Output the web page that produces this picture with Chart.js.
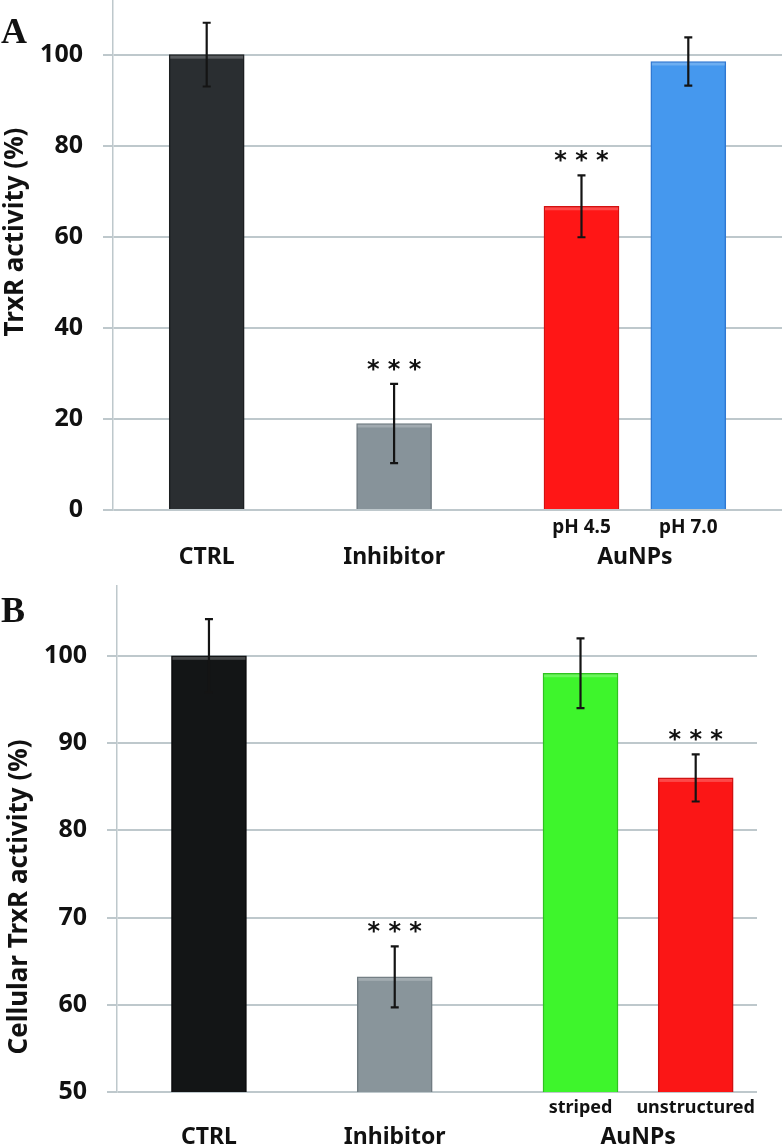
<!DOCTYPE html>
<html>
<head>
<meta charset="utf-8">
<script src="https://cdn.jsdelivr.net/npm/chart.js@4.4.0/dist/chart.umd.min.js"></script>
<style>
  html, body { margin: 0; padding: 0; background: #fff; }
  canvas { display: block; }
</style>
</head>
<body>
<canvas id="chartA" width="784" height="570"></canvas>
<canvas id="chartB" width="784" height="578"></canvas>
<script>
// panel A: purified TrxR
const groupA = ['CTRL', 'Inhibitor', 'AuNPs', 'AuNPs'];
const subA = ['', '', 'pH 4.5', 'pH 7.0'];
const valuesA = [100, 19, 66.7, 98.5];
const errorsA = [7, 8.7, 6.8, 5.3];
const starsA = ['', '***', '***', ''];
const slotA = [1, 2, 3, 3.57];
const ticksA = [0, 20, 40, 60, 80, 100];

// panel B: cellular TrxR
const groupB = ['CTRL', 'Inhibitor', 'AuNPs', 'AuNPs'];
const subB = ['', '', 'striped', 'unstructured'];
const valuesB = [100, 63.2, 98, 86];
const errorsB = [4.2, 3.5, 4, 2.7];
const starsB = ['', '***', '', '***'];
const slotB = [1, 2, 3, 3.62];
const ticksB = [50, 60, 70, 80, 90, 100];

const GRID = '#bec8cc';

const decor = {
  id: 'decor',
  afterDatasetsDraw(chart, args, o) {
    const ctx = chart.ctx;
    const y = chart.scales.y;
    const bars = chart.getDatasetMeta(0).data;
    ctx.save();

    // bevel highlight on top of each bar
    bars.forEach(bar => {
      const w = bar.width;
      ctx.fillStyle = 'rgba(255,255,255,0.22)';
      ctx.fillRect(bar.x - w / 2 + 1, bar.y + 1, w - 2, 3);
    });

    ctx.strokeStyle = '#141414';
    ctx.lineWidth = 2.2;
    ctx.fillStyle = '#111';
    ctx.textAlign = 'center';
    ctx.textBaseline = 'alphabetic';
    ctx.font = 'bold 24px "DejaVu Sans"';
    bars.forEach((bar, i) => {
      const top = y.getPixelForValue(o.values[i] + o.errors[i]);
      const bot = y.getPixelForValue(o.values[i] - o.errors[i]);
      ctx.beginPath();
      ctx.moveTo(bar.x, top); ctx.lineTo(bar.x, bot);
      ctx.moveTo(bar.x - 4, top); ctx.lineTo(bar.x + 4, top);
      ctx.moveTo(bar.x - 4, bot); ctx.lineTo(bar.x + 4, bot);
      ctx.stroke();
      if (o.stars[i]) {
        ctx.fillText(o.stars[i].split('').join(' '), bar.x, top - 20 + 13);
      }
    });
    ctx.restore();
  },
  afterDraw(chart, args, o) {
    const ctx = chart.ctx;
    const bars = chart.getDatasetMeta(0).data;
    ctx.save();
    ctx.fillStyle = '#111';
    ctx.textAlign = 'center';
    ctx.textBaseline = 'alphabetic';

    // sub labels under each bar
    ctx.font = 'bold ' + o.subSize + 'px "Noto Sans"';
    bars.forEach((bar, i) => {
      if (o.sub[i]) ctx.fillText(o.sub[i], bar.x, o.subY);
    });

    // group labels, centred on their bars
    ctx.font = 'bold ' + o.groupSize + 'px "Noto Sans"';
    let i = 0;
    while (i < bars.length) {
      let j = i;
      while (j + 1 < bars.length && o.group[j + 1] === o.group[i]) j++;
      ctx.fillText(o.group[i], (bars[i].x + bars[j].x) / 2, o.groupY);
      i = j + 1;
    }

    // y title
    ctx.save();
    ctx.translate(o.titleX, o.titleY);
    ctx.rotate(-Math.PI / 2);
    ctx.font = 'bold 26px "Noto Sans"';
    ctx.textBaseline = 'middle';
    ctx.fillText(o.title, 0, 0);
    ctx.restore();

    // panel letter
    ctx.textAlign = 'left';
    ctx.font = 'bold 36px "Liberation Serif"';
    ctx.fillText(o.letter, 1, o.letterY);
    ctx.restore();
  }
};

function makeChart(id, cfg) {
  return new Chart(document.getElementById(id), {
    type: 'bar',
    data: {
      datasets: [{
        data: cfg.slots.map((s, i) => ({ x: s, y: cfg.values[i] })),
        backgroundColor: cfg.colors,
        borderColor: cfg.borders,
        borderWidth: 1.5,
        barThickness: 75
      }]
    },
    options: {
      responsive: false,
      animation: false,
      layout: { padding: cfg.padding },
      plugins: {
        legend: { display: false },
        tooltip: { enabled: false },
        decor: {
          values: cfg.values, errors: cfg.errors, stars: cfg.stars,
          sub: cfg.sub, group: cfg.group, title: cfg.title, letter: cfg.letter,
          subY: cfg.subY, groupY: cfg.groupY, subSize: cfg.subSize, groupSize: cfg.groupSize,
          titleX: cfg.titleX, titleY: cfg.titleY, letterY: cfg.letterY
        }
      },
      scales: {
        x: {
          type: 'linear',
          min: cfg.xMin,
          max: cfg.xMax,
          offset: false,
          display: false
        },
        y: {
          min: cfg.yMin,
          max: cfg.yMax,
          afterBuildTicks: scale => { scale.ticks = cfg.ticks.map(v => ({ value: v })); },
          afterFit: scale => {
            scale.width = cfg.axisW;
            scale.paddingTop = 0;
            scale.paddingBottom = 0;
          },
          grid: { color: GRID, lineWidth: 2, tickLength: 10, tickColor: GRID },
          border: { color: GRID, width: 1.5 },
          ticks: {
            padding: 20,
            color: '#111',
            font: { family: 'Noto Sans', size: 25, weight: 'bold' }
          }
        }
      }
    },
    plugins: [decor]
  });
}

makeChart('chartA', {
  slots: slotA, values: valuesA, errors: errorsA, stars: starsA,
  sub: subA, group: groupA, ticks: ticksA,
  colors: ['#2a2e31', '#87939a', '#ff1616', '#4598ee'],
  borders: ['#1c1f21', '#6f7a80', '#d41010', '#2f78d2'],
  title: 'TrxR activity (%)', letter: 'A',
  xMin: 0.5, xMax: 4.07, yMin: 0, yMax: 112,
  axisW: 113, padding: { top: 0, right: 2, bottom: 60, left: 0 },
  subY: 533, groupY: 564, subSize: 19, groupSize: 23,
  titleX: 16, titleY: 232, letterY: 43
});

makeChart('chartB', {
  slots: slotB, values: valuesB, errors: errorsB, stars: starsB,
  sub: subB, group: groupB, ticks: ticksB,
  colors: ['#131516', '#89959b', '#3ef52c', '#fb1616'],
  borders: ['#0a0b0c', '#6f7b81', '#2ec41e', '#d01010'],
  title: 'Cellular TrxR activity (%)', letter: 'B',
  xMin: 0.505, xMax: 3.95, yMin: 50, yMax: 108,
  axisW: 117, padding: { top: 16, right: 27, bottom: 56, left: 0 },
  subY: 543, groupY: 574, subSize: 18, groupSize: 23,
  titleX: 20, titleY: 327, letterY: 52
});
</script>
</body>
</html>
